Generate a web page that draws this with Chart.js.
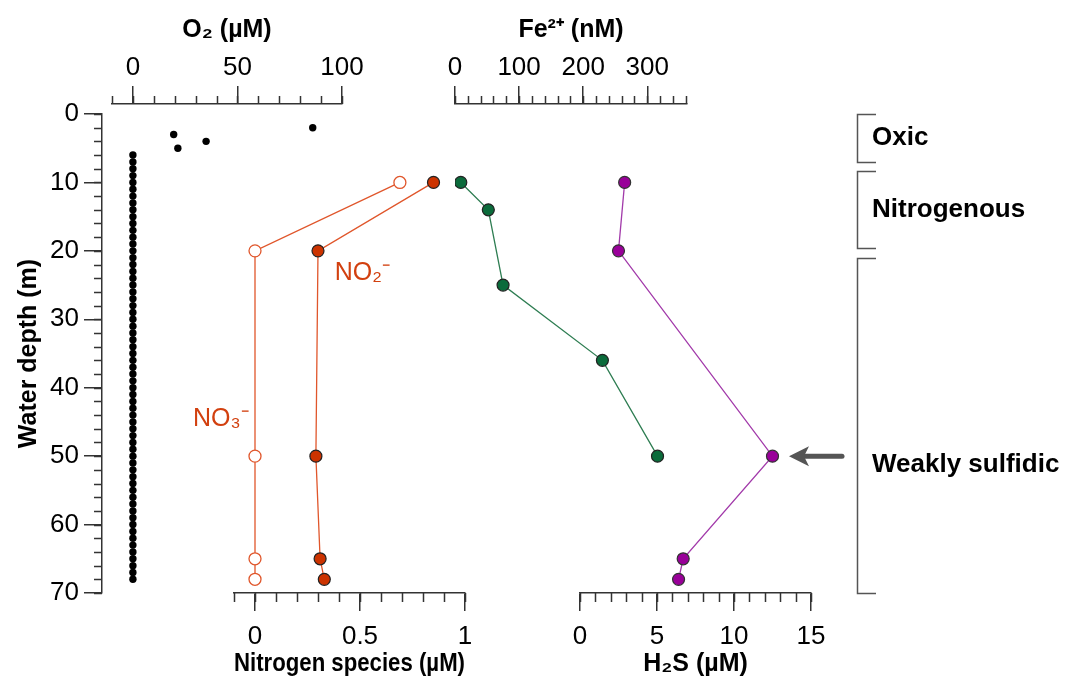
<!DOCTYPE html>
<html>
<head>
<meta charset="utf-8">
<script src="https://cdn.jsdelivr.net/npm/chart.js@4.4.1/dist/chart.umd.min.js"></script>
<style>
  html, body { margin: 0; padding: 0; background: #fff; }
  #chart { display: block; }
</style>
</head>
<body>
<canvas id="chart" width="1075" height="691"></canvas>
<script>
// tick labels
const depthTicks = [0, 10, 20, 30, 40, 50, 60, 70];
const o2Ticks = [0, 50, 100];
const feTicks = [0, 100, 200, 300];
const nTicks = [0, 0.5, 1];
const h2sTicks = [0, 5, 10, 15];

// O2 profile (uM) against depth (m)
const o2Depth = [2, 3, 4, 5,
  6, 7, 8, 9, 10, 11, 12, 13, 14, 15, 16, 17, 18, 19, 20, 21, 22, 23, 24, 25, 26, 27,
  28, 29, 30, 31, 32, 33, 34, 35, 36, 37, 38, 39, 40, 41, 42, 43, 44, 45, 46, 47, 48,
  49, 50, 51, 52, 53, 54, 55, 56, 57, 58, 59, 60, 61, 62, 63, 64, 65, 66, 67, 68];
const o2 = [86, 19.5, 35, 21.5,
  0, 0, 0, 0, 0, 0, 0, 0, 0, 0, 0, 0, 0, 0, 0, 0, 0, 0, 0, 0, 0, 0,
  0, 0, 0, 0, 0, 0, 0, 0, 0, 0, 0, 0, 0, 0, 0, 0, 0, 0, 0, 0, 0,
  0, 0, 0, 0, 0, 0, 0, 0, 0, 0, 0, 0, 0, 0, 0, 0, 0, 0, 0, 0];

// nitrogen species (uM)
const nDepth = [10, 20, 50, 65, 68];
const no3 = [0.69, 0, 0, 0, 0];
const no2 = [0.85, 0.30, 0.29, 0.31, 0.33];

// Fe2+ (nM)
const feDepth = [10, 14, 25, 36, 50];
const fe = [9, 52, 75, 230, 316];

// H2S (uM)
const h2sDepth = [10, 20, 50, 65, 68];
const h2s = [2.9, 2.5, 12.5, 6.7, 6.4];

// redox zones on the right
const zones = ["Oxic", "Nitrogenous", "Weakly sulfidic"];
const zoneTop = [0, 8.3, 21];
const zoneBottom = [7, 19.6, 70];
const zoneLabelDepth = [3.5, 14, 51.3];
const arrowDepth = 50;

const axisColor = "#333";
const orange = "#e0562b";
const font = "'Liberation Sans', Arial, sans-serif";

// horizontal extent of each x axis (they share the plot but not the width)
const spans = { xO2: [112, 342], xFe: [455, 687], xN: [234, 465], xH2S: [580, 811] };
const minorStep = { y: 2, xO2: 10, xFe: 20, xN: 0.1, xH2S: 1 };

Chart.defaults.font.family = font;
Chart.defaults.color = "#000";

function pts(xs, ys) {
  return xs.map((v, i) => ({ x: v, y: ys[i] }));
}

function fixedTicks(list) {
  return function (scale) {
    scale.ticks = list.map(v => ({ value: v }));
  };
}

const placeAxes = {
  id: "placeAxes",
  afterLayout(chart) {
    for (const id in spans) {
      const s = chart.scales[id];
      s.left = spans[id][0];
      s.right = spans[id][1];
      s.width = s.right - s.left;
      if (s.position === "top") {
        s.top = 0;
        s.bottom = 104;
      } else {
        s.top = chart.chartArea.bottom;
        s.bottom = chart.height;
      }
      s.height = s.bottom - s.top;
      s.configure();
    }
  }
};

const minorTicks = {
  id: "minorTicks",
  afterDraw(chart) {
    const ctx = chart.ctx;
    ctx.save();
    ctx.strokeStyle = axisColor;
    ctx.lineWidth = 1.5;
    ctx.beginPath();
    for (const id in minorStep) {
      const s = chart.scales[id];
      const step = minorStep[id];
      const n = Math.floor((s.max - s.min) / step + 1e-6);
      for (let i = 0; i <= n; i++) {
        const p = Math.round(s.getPixelForValue(s.min + i * step)) + 0.5;
        if (id === "y") {
          ctx.moveTo(s.right - 8, p); ctx.lineTo(s.right, p);
        } else if (s.position === "top") {
          ctx.moveTo(p, s.bottom - 8); ctx.lineTo(p, s.bottom);
        } else {
          ctx.moveTo(p, s.top); ctx.lineTo(p, s.top + 9);
        }
      }
    }
    ctx.stroke();
    ctx.restore();
  }
};

const annotations = {
  id: "annotations",
  afterDraw(chart) {
    const ctx = chart.ctx;
    const y = chart.scales.y;
    const xN = chart.scales.xN;
    ctx.save();

    // zone brackets
    ctx.strokeStyle = "#555";
    ctx.lineWidth = 1.5;
    ctx.font = "bold 26px " + font;
    ctx.fillStyle = "#000";
    ctx.textBaseline = "middle";
    zones.forEach((z, i) => {
      const t = Math.round(y.getPixelForValue(zoneTop[i])) + 0.5;
      const b = Math.round(y.getPixelForValue(zoneBottom[i])) + 0.5;
      ctx.beginPath();
      ctx.moveTo(876, t); ctx.lineTo(857.5, t); ctx.lineTo(857.5, b); ctx.lineTo(876, b);
      ctx.stroke();
      ctx.fillText(z, 872, y.getPixelForValue(zoneLabelDepth[i]));
    });

    // arrow pointing at the H2S maximum
    const ay = y.getPixelForValue(arrowDepth);
    ctx.strokeStyle = "#555";
    ctx.fillStyle = "#555";
    ctx.lineWidth = 5;
    ctx.lineCap = "round";
    ctx.beginPath();
    ctx.moveTo(842, ay); ctx.lineTo(800, ay);
    ctx.stroke();
    ctx.beginPath();
    ctx.moveTo(789, ay); ctx.lineTo(809, ay - 10); ctx.lineTo(804, ay); ctx.lineTo(809, ay + 10);
    ctx.closePath();
    ctx.fill();

    // species labels
    ctx.fillStyle = "#d2400f";
    ctx.font = "25px " + font;
    ctx.textBaseline = "middle";
    ctx.fillText("NO\u2082\u207B", xN.getPixelForValue(0.38), y.getPixelForValue(23.3));
    ctx.fillText("NO\u2083\u207B", xN.getPixelForValue(-0.295), y.getPixelForValue(44.6));
    ctx.restore();
  }
};

function xAxis(position, min, max, ticks, title, h) {
  return {
    type: "linear",
    position: position,
    min: min,
    max: max,
    afterBuildTicks: fixedTicks(ticks),
    afterFit: s => { s.height = h; },
    grid: { drawOnChartArea: false, tickLength: 18, color: axisColor, lineWidth: 1.5 },
    border: { color: axisColor, width: 1.5 },
    ticks: { autoSkip: false, maxRotation: 0, padding: position === "top" ? 3 : 10,
      font: { size: 26 }, callback: v => String(v) },
    title: { display: title !== "", text: title, font: { size: 25, weight: "bold" },
      padding: position === "top" ? { top: 15 } : { bottom: 12 } }
  };
}

const ctx = document.getElementById("chart").getContext("2d");

new Chart(ctx, {
  type: "scatter",
  data: {
    datasets: [
      {
        label: "O2",
        data: pts(o2, o2Depth),
        xAxisID: "xO2",
        yAxisID: "y",
        showLine: false,
        pointRadius: 3.7,
        pointBorderWidth: 0,
        pointBackgroundColor: "#000"
      },
      {
        label: "NO3-",
        data: pts(no3, nDepth),
        xAxisID: "xN",
        yAxisID: "y",
        showLine: true,
        borderColor: orange,
        borderWidth: 1.3,
        pointRadius: 6,
        pointBorderWidth: 1.3,
        pointBorderColor: orange,
        pointBackgroundColor: "#fff"
      },
      {
        label: "NO2-",
        data: pts(no2, nDepth),
        xAxisID: "xN",
        yAxisID: "y",
        showLine: true,
        borderColor: orange,
        borderWidth: 1.3,
        pointRadius: 6,
        pointBorderWidth: 1.2,
        pointBorderColor: "#222",
        pointBackgroundColor: "#cc3300"
      },
      {
        label: "Fe2+",
        data: pts(fe, feDepth),
        xAxisID: "xFe",
        yAxisID: "y",
        showLine: true,
        borderColor: "#2e7d52",
        borderWidth: 1.3,
        pointRadius: 6,
        pointBorderWidth: 1.2,
        pointBorderColor: "#222",
        pointBackgroundColor: "#0b6b3b"
      },
      {
        label: "H2S",
        data: pts(h2s, h2sDepth),
        xAxisID: "xH2S",
        yAxisID: "y",
        showLine: true,
        borderColor: "#a23aaa",
        borderWidth: 1.3,
        pointRadius: 6,
        pointBorderWidth: 1.2,
        pointBorderColor: "#333",
        pointBackgroundColor: "#990099"
      }
    ]
  },
  options: {
    responsive: false,
    animation: false,
    layout: { padding: { left: 0, right: 245, top: 0, bottom: 0 } },
    plugins: {
      legend: { display: false },
      tooltip: { enabled: false }
    },
    scales: {
      y: {
        type: "linear",
        position: "left",
        reverse: true,
        min: 0,
        max: 70,
        afterBuildTicks: fixedTicks(depthTicks),
        afterFit: s => { s.width = 102; },
        grid: { drawOnChartArea: false, tickLength: 18, color: axisColor, lineWidth: 1.5 },
        border: { color: axisColor, width: 1.5 },
        ticks: { padding: 5, font: { size: 26 }, callback: v => String(v) },
        title: { display: true, text: "Water depth (m)", font: { size: 25, weight: "bold" }, padding: { top: 14 } }
      },
      xO2: xAxis("top", -10, 100, o2Ticks, "O\u2082 (\u00B5M)", 114),
      xFe: xAxis("top", 0, 362, feTicks, "Fe\u00B2\u207A (nM)", 0),
      xN: xAxis("bottom", -0.1, 1, nTicks, "Nitrogen species (\u00B5M)", 98),
      xH2S: xAxis("bottom", 0, 15, h2sTicks, "H\u2082S (\u00B5M)", 0)
    }
  },
  plugins: [placeAxes, minorTicks, annotations]
});
</script>
</body>
</html>
